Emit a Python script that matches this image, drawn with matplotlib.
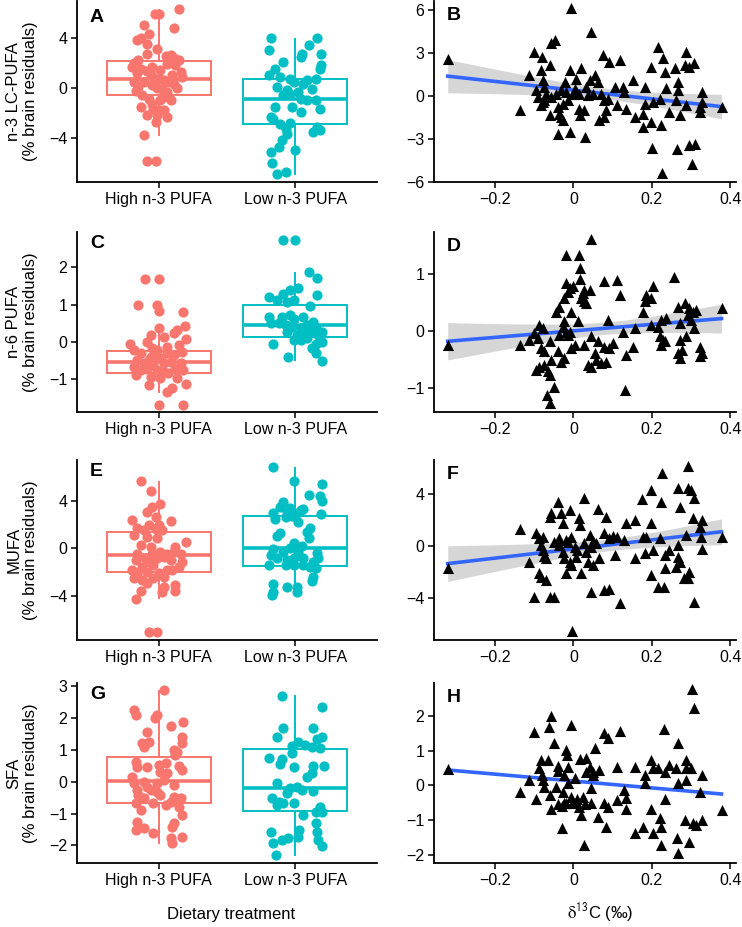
import numpy as np
import matplotlib.pyplot as plt

plt.rcParams['font.family'] = ['Liberation Sans', 'DejaVu Sans']

groups = ['High n-3 PUFA', 'Low n-3 PUFA']
pink = '#F8766D'
teal = '#00BFC4'

# ---- panel A: n-3 LC-PUFA by diet (jitter offset, value) ----
a_hi_dx = [-0.03, 0.00, 0.15, -0.11, 0.11, -0.07, -0.16, -0.13, -0.09, -0.01,
           -0.09, -0.15, -0.18, -0.20, -0.13, -0.09, 0.05, 0.09, 0.11, 0.15,
           0.06, 0.12, 0.17, -0.16, -0.06, -0.02, 0.01, 0.04, 0.07, 0.11,
           -0.18, -0.11, -0.05, -0.01, 0.02, 0.13, -0.17, -0.12, -0.07, 0.04,
           0.09, -0.13, -0.04, 0.00, 0.04, -0.09, 0.06, -0.02, -0.01, -0.11,
           -0.09, -0.02, -0.05, 0.01, 0.10, 0.16, -0.15, 0.06, -0.05, 0.01]
a_hi_y = [5.93, 5.93, 6.28, 5.00, 4.79, 4.26, 3.86, 4.02, 3.54, 3.14,
          2.74, 2.26, 2.00, 1.68, 1.54, 1.36, 2.53, 2.66, 2.42, 2.21,
          1.94, 1.81, 0.88, 1.20, 1.01, 0.69, 0.74, 0.61, 0.48, 0.35,
          0.48, 0.48, 0.21, 0.03, -0.05, 0.03, -0.24, -0.59, -0.85, -0.72,
          -0.98, -1.52, -1.65, -1.78, -1.73, -2.18, -2.31, -2.71, -2.18, -3.78,
          -5.82, -5.82, 1.68, 1.41, 1.01, 1.28, 0.08, -0.32, -1.25, -0.98]
a_lo_dx = [-0.18, -0.19, -0.09, -0.15, -0.19, -0.11, -0.04, -0.01, 0.04, 0.05,
           0.10, 0.16, 0.19, 0.19, 0.18, -0.13, -0.06, -0.09, -0.04, 0.02,
           0.06, 0.09, 0.15, 0.12, 0.04, 0.09, 0.15, 0.18, -0.15, -0.02,
           0.04, -0.18, -0.16, -0.11, -0.04, -0.07, -0.06, -0.10, -0.12, -0.18,
           0.00, -0.17, -0.13, -0.07, 0.13, 0.18, 0.16]
a_lo_y = [3.99, 3.00, 2.07, 1.49, 1.01, 0.88, 0.74, 0.48, 2.47, 2.74,
          3.40, 3.99, 2.74, 1.81, 1.54, 0.08, -0.19, -0.59, -0.45, -0.32,
          0.35, 0.61, 0.74, -0.05, -0.85, -0.98, -0.98, -1.65, -1.52, -1.52,
          -1.91, -2.31, -2.45, -2.85, -2.79, -3.24, -3.64, -4.18, -4.71, -5.11,
          -4.97, -5.98, -6.84, -6.70, -3.51, -3.38, -3.11]
# box stats: whisker low, q1, median, q3, whisker high
a_box = [(-3.78, -0.59, 0.69, 2.18, 6.20), (-6.84, -2.90, -0.85, 0.74, 3.94)]

# ---- panel B: n-3 LC-PUFA vs d13C ----
b_x = [-0.321, -0.136, -0.113, -0.100, -0.081, -0.084, -0.078, -0.091, -0.095, -0.074,
       -0.070, -0.078, -0.083, -0.061, -0.057, -0.047, -0.060, -0.057, -0.044, -0.040,
       -0.036, -0.027, -0.032, -0.040, -0.021, -0.019, -0.014, -0.010, -0.006, -0.008,
       -0.002, 0.007, 0.015, 0.018, 0.020, 0.028, 0.030, 0.037, 0.041, 0.045,
       0.049, 0.054, 0.062, 0.064, 0.075, 0.079, 0.084, 0.088, 0.092, 0.105,
       0.110, 0.118, 0.126, 0.130, 0.135, 0.152, 0.156, 0.177, 0.177, 0.182,
       0.182, 0.197, 0.199, 0.203, 0.201, 0.220, 0.217, 0.224, 0.228, 0.226,
       0.233, 0.237, 0.245, 0.258, 0.263, 0.267, 0.267, 0.271, 0.265, 0.284,
       0.288, 0.288, 0.296, 0.296, 0.303, 0.309, 0.311, 0.322, 0.327, 0.322,
       0.327, 0.378, -0.074, -0.032, 0.004, 0.015, 0.032, 0.071, 0.079, -0.027]
b_y = [2.54, -1.00, 1.45, 3.08, 2.68, 1.79, 1.10, -0.07, 0.40, 0.63,
       0.16, -0.42, -0.65, 2.14, 3.66, 3.89, -1.35, -0.07, 0.16, -0.77,
       -1.24, -1.70, -1.47, -2.63, 0.98, 0.28, -0.30, -2.52, 6.10, 1.79,
       0.16, 1.21, -0.89, -1.35, 1.91, -1.00, -2.87, 0.05, 1.10, 4.48,
       0.16, 1.45, 0.98, -1.70, 2.84, -1.47, -1.00, -0.19, 2.38, 0.63,
       -0.65, 2.49, 0.63, 0.28, -0.89, 1.10, -1.47, -2.17, -1.24, 0.63,
       -0.54, 2.03, -1.82, -0.42, -3.61, -0.19, 3.43, -2.05, 2.61, -5.38,
       1.68, 0.58, -1.12, 1.91, -0.30, 0.98, 0.40, -1.35, -3.68, 2.14,
       3.08, -0.65, 2.03, -3.45, -4.73, 2.26, -3.33, -0.77, 0.28, -1.12,
       -0.42, -0.77, -0.30, 0.40, 0.51, 0.16, 0.63, 0.16, -0.30, -0.54]

# ---- panel C: n-6 PUFA by diet ----
c_hi_dx = [-0.10, 0.00, -0.15, -0.01, 0.00, 0.18, 0.19, 0.11, 0.13, 0.00,
           -0.06, 0.04, 0.20, -0.21, -0.09, 0.15, -0.18, -0.13, -0.06, -0.02,
           0.01, 0.06, 0.11, 0.17, -0.16, -0.11, -0.07, -0.04, 0.04, 0.09,
           0.16, -0.18, -0.13, -0.09, -0.01, 0.04, 0.07, 0.12, 0.18, -0.17,
           -0.06, 0.01, 0.13, -0.07, 0.20, 0.06, 0.10, 0.00, 0.18, -0.01,
           0.06, -0.05]
c_hi_y = [1.68, 1.68, 0.98, 0.99, 0.83, 0.81, 0.43, 0.25, 0.32, 0.37,
          0.19, 0.14, 0.07, -0.04, 0.01, -0.08, -0.21, -0.30, -0.39, -0.35,
          -0.44, -0.30, -0.35, -0.26, -0.48, -0.57, -0.48, -0.62, -0.57, -0.53,
          -0.57, -0.66, -0.75, -0.71, -0.75, -0.79, -0.84, -0.71, -0.75, -0.88,
          -0.93, -0.97, -0.97, -1.15, -1.13, -1.33, -1.24, -1.69, -1.69, -0.21,
          -0.13, -0.17]
c_lo_dx = [-0.09, 0.00, 0.10, 0.16, 0.16, -0.19, -0.09, -0.04, 0.02, -0.01,
           -0.13, -0.06, 0.11, -0.19, -0.10, -0.04, -0.01, 0.06, 0.13, -0.18,
           -0.12, -0.07, -0.02, 0.04, 0.09, 0.15, -0.06, 0.01, 0.07, 0.12,
           0.17, 0.20, 0.04, 0.09, 0.15, 0.20, -0.16, 0.12, 0.15, -0.05,
           0.20, -0.01]
c_lo_y = [2.73, 2.73, 1.87, 1.73, 1.26, 1.21, 1.30, 1.39, 1.46, 1.13,
          1.13, 1.08, 0.96, 0.68, 0.68, 0.72, 0.63, 0.68, 0.54, 0.50,
          0.50, 0.46, 0.41, 0.37, 0.46, 0.37, 0.28, 0.19, 0.23, 0.28,
          0.19, 0.28, 0.05, 0.10, -0.04, 0.01, -0.04, -0.17, -0.30, -0.39,
          -0.50, 0.05]
c_box = [(-1.33, -0.82, -0.54, -0.24, 0.43), (-0.48, 0.13, 0.46, 0.98, 1.86)]

# ---- panel D: n-6 PUFA vs d13C ----
d_x = [-0.321, -0.136, -0.113, -0.100, -0.087, -0.078, -0.091, -0.083, -0.074, -0.061,
       -0.095, -0.087, -0.074, -0.065, -0.061, -0.057, -0.068, -0.060, -0.049, -0.044,
       -0.036, -0.040, -0.032, -0.023, -0.027, -0.023, -0.019, -0.036, -0.014, -0.010,
       -0.023, -0.019, -0.014, -0.010, -0.002, -0.019, -0.006, -0.006, 0.003, 0.011,
       0.013, 0.018, 0.018, 0.020, 0.024, 0.028, 0.032, 0.028, 0.041, 0.045,
       0.028, 0.037, 0.045, 0.045, 0.054, 0.062, 0.057, 0.071, 0.079, 0.079,
       0.084, 0.088, 0.092, 0.100, 0.110, 0.118, 0.126, 0.135, 0.132, 0.152,
       0.156, 0.177, 0.182, 0.186, 0.199, 0.203, 0.199, 0.217, 0.224, 0.220,
       0.224, 0.233, 0.237, 0.228, 0.256, 0.268, 0.272, 0.272, 0.268, 0.272,
       0.276, 0.284, 0.288, 0.292, 0.296, 0.301, 0.305, 0.309, 0.313, 0.322,
       0.327, 0.322, 0.378]
d_y = [-0.24, -0.24, -0.15, -0.03, 0.11, 0.05, -0.12, -0.30, -0.35, -0.18,
       -0.67, -0.62, -0.59, -0.70, -0.76, -0.50, -1.11, -1.26, -0.97, 0.34,
       0.43, -0.35, -0.53, -0.47, 0.08, 0.17, -0.01, -0.06, -0.06, -0.01,
       0.58, 0.84, 0.69, 0.75, 0.78, 1.33, 0.34, -0.30, -0.24, 0.17,
       1.33, 1.10, 0.91, 0.58, 0.66, 0.52, 0.49, 0.72, 0.72, 1.60,
       -0.24, -0.59, -0.62, -0.09, -0.38, -0.18, -0.50, -0.56, 0.87, -0.27,
       -0.53, 0.20, -0.30, -0.21, 0.90, 0.63, -0.01, -0.41, -1.03, -0.27,
       0.05, 0.34, 0.52, 0.63, 0.58, 0.78, 0.11, 0.08, 0.20, -0.09,
       -0.24, -0.18, 0.23, -0.15, 0.94, 0.43, 0.14, -0.15, -0.38, -0.47,
       -0.33, 0.49, -0.09, 0.28, 0.40, 0.20, 0.34, 0.05, 0.37, -0.27,
       -0.38, -0.44, 0.40]

# ---- panel E: MUFA by diet ----
e_hi_dx = [-0.13, -0.06, 0.01, -0.09, -0.05, -0.20, 0.09, -0.02, -0.07, 0.00,
           -0.16, -0.11, -0.02, 0.02, -0.18, -0.09, -0.01, 0.20, -0.13, -0.06,
           0.12, -0.16, -0.05, 0.01, 0.06, 0.11, 0.16, -0.10, -0.01, 0.04,
           -0.17, -0.07, 0.09, 0.17, -0.12, -0.04, 0.15, -0.20, -0.16, -0.09,
           0.00, 0.06, 0.10, -0.18, -0.12, -0.04, 0.04, -0.09, 0.12, 0.12,
           0.04, 0.02, -0.13, -0.17, -0.07, -0.01]
e_hi_y = [5.68, 4.81, 3.72, 3.08, 3.44, 2.38, 2.32, 2.66, 1.96, 1.96,
          1.68, 1.54, 1.59, 1.54, 1.12, 0.98, 0.84, 0.56, 0.28, 0.14,
          0.08, -0.48, -0.48, -0.28, -0.48, -0.28, -0.48, -0.84, -0.84, -0.70,
          -0.98, -1.12, -0.98, -1.12, -1.54, -1.40, -1.54, -1.82, -2.10, -1.96,
          -2.10, -1.82, -1.82, -2.52, -2.66, -2.52, -2.38, -2.94, -3.08, -3.55,
          -3.22, -3.64, -3.55, -4.28, -7.05, -7.05]
e_lo_dx = [-0.16, -0.01, 0.20, 0.10, 0.18, 0.20, -0.09, -0.11, -0.04, 0.04,
           0.06, -0.16, -0.06, 0.01, 0.19, -0.15, -0.07, -0.02, 0.02, 0.11,
           0.09, -0.11, -0.13, 0.10, -0.01, 0.05, -0.16, -0.09, -0.04, 0.02,
           0.16, -0.18, -0.13, -0.06, -0.01, 0.06, 0.17, 0.13, -0.19, -0.07,
           -0.01, 0.06, 0.11, 0.15, 0.13, 0.12, -0.16, -0.16, -0.06, 0.01,
           0.01, -0.17]
e_lo_y = [6.80, 5.65, 5.40, 4.48, 4.42, 3.97, 3.92, 3.50, 3.36, 3.22,
          3.27, 2.94, 3.08, 2.94, 2.88, 2.43, 2.66, 2.71, 2.24, 1.68,
          1.40, 1.26, 1.03, 0.84, 0.42, 0.20, -0.08, -0.28, 0.00, -0.28,
          -0.42, -0.56, -0.84, -0.98, -0.84, -0.84, -0.84, -1.12, -1.40, -1.40,
          -1.40, -1.40, -1.54, -1.68, -2.38, -2.71, -2.99, -3.64, -3.22, -3.22,
          -3.64, -3.92]
e_box = [(-4.20, -1.96, -0.53, 1.34, 5.60), (-3.78, -1.48, 0.03, 2.74, 6.70)]

# ---- panel F: MUFA vs d13C ----
f_x = [-0.321, -0.136, -0.113, -0.100, -0.095, -0.087, -0.083, -0.078, -0.074, -0.087,
       -0.083, -0.070, -0.078, -0.061, -0.061, -0.057, -0.049, -0.040, -0.036, -0.032,
       -0.027, -0.036, -0.027, -0.023, -0.019, -0.014, -0.010, -0.010, -0.006, -0.006,
       -0.004, 0.003, 0.007, 0.015, 0.018, 0.020, 0.028, 0.028, 0.032, 0.037,
       0.041, 0.045, 0.045, 0.049, 0.058, 0.062, 0.066, 0.079, 0.079, 0.084,
       0.092, 0.090, 0.110, 0.107, 0.120, 0.130, 0.135, 0.156, 0.156, 0.175,
       0.177, 0.186, 0.182, 0.199, 0.199, 0.203, 0.199, 0.217, 0.224, 0.226,
       0.220, 0.233, 0.233, 0.231, 0.245, 0.263, 0.267, 0.267, 0.271, 0.267,
       0.271, 0.288, 0.292, 0.292, 0.301, 0.296, 0.292, 0.282, 0.305, 0.309,
       0.307, 0.322, 0.327, 0.325, 0.327, 0.378,
       -0.050, -0.020, 0.010, 0.050, -0.070, 0.100]
f_y = [-1.73, 1.29, -1.21, -3.92, 0.98, 0.59, 0.08, -0.31, -0.77, -2.12,
       -2.37, -2.63, 0.72, 2.27, -3.97, 2.58, -3.92, 3.43, 0.59, 2.53,
       1.75, 0.08, -0.44, -0.95, -2.12, 0.34, 2.79, -1.21, 0.72, -1.47,
       -6.58, -0.05, -0.83, 2.14, 1.63, -2.12, 3.69, 0.21, -0.44, -1.21,
       0.85, -0.05, -3.54, -1.47, 0.21, 2.84, -0.95, -3.41, 0.98, 2.22,
       -3.35, 0.59, 0.72, -0.70, -4.39, 0.46, 1.75, 2.01, -0.95, 3.61,
       0.72, 0.72, -0.57, 4.34, 1.75, -0.31, -2.25, -3.15, 3.43, 5.63,
       0.59, -0.70, -1.73, -3.20, -0.31, -1.60, 0.08, 4.46, 2.99, -0.83,
       -1.21, 0.85, 6.19, 4.46, 4.34, -1.99, -2.50, -2.50, 2.14, 3.69,
       -4.31, 1.50, 2.01, 0.72, -0.26, 0.72,
       0.30, 0.50, -0.30, 0.40, -0.90, 0.80]

# ---- panel G: SFA by diet ----
g_hi_dx = [0.04, -0.18, -0.17, -0.03, -0.01, 0.18, 0.09, -0.09, 0.17, -0.12,
           -0.07, -0.11, 0.17, 0.11, 0.13, 0.12, -0.17, -0.16, -0.09, 0.00,
           0.05, 0.15, 0.17, 0.01, 0.06, -0.20, -0.18, -0.11, -0.09, -0.01,
           0.04, 0.11, -0.16, -0.06, -0.01, 0.01, -0.15, -0.11, 0.11, 0.16,
           -0.17, -0.13, -0.04, 0.05, 0.15, 0.09, 0.17, -0.16, -0.11, -0.17,
           -0.04, 0.11, 0.10, 0.17, 0.09, 0.10]
g_hi_y = [2.87, 2.24, 2.09, 1.98, 2.09, 1.88, 1.74, 1.57, 1.41, 1.22,
          1.25, 1.10, 1.22, 0.99, 0.94, 0.84, 0.63, 0.47, 0.47, 0.52,
          0.57, 0.49, 0.37, 0.31, 0.26, 0.16, -0.05, 0.00, -0.16, -0.05,
          0.05, -0.10, -0.26, -0.26, -0.31, -0.42, -0.42, -0.52, -0.47, -0.52,
          -0.68, -0.89, -0.68, -0.73, -0.78, -0.63, -1.04, -1.28, -1.46, -1.51,
          -1.62, -1.30, -1.41, -1.72, -1.77, -1.93]
g_lo_dx = [-0.10, 0.20, -0.09, 0.13, -0.13, 0.20, -0.02, 0.02, 0.07, 0.12,
           0.16, 0.18, -0.19, -0.10, -0.02, -0.11, -0.01, 0.13, 0.21, 0.09,
           0.12, -0.13, -0.04, 0.01, 0.05, -0.06, 0.13, -0.17, -0.12, -0.09,
           -0.01, -0.13, 0.18, 0.20, 0.15, 0.06, 0.15, 0.03, 0.02, -0.18,
           0.16, -0.10, -0.05, -0.16, 0.17, 0.20, -0.14]
g_lo_y = [2.68, 2.33, 1.67, 1.69, 1.39, 1.39, 1.12, 1.25, 1.15, 1.08,
          1.33, 1.04, 0.73, 0.70, 0.89, 0.55, 0.45, 0.49, 0.49, 0.16,
          0.26, -0.05, -0.21, -0.16, -0.26, -0.37, -0.28, -0.52, -0.63, -0.68,
          -0.68, -0.73, -0.78, -0.94, -0.94, -1.04, -1.30, -1.51, -1.72, -1.57,
          -1.57, -1.83, -1.77, -1.93, -1.83, -2.01, -2.30]
g_box = [(-1.93, -0.66, 0.03, 0.76, 2.85), (-2.30, -0.92, -0.19, 1.02, 2.68)]

# ---- panel H: SFA vs d13C ----
h_x = [-0.321, -0.136, -0.113, -0.100, -0.095, -0.087, -0.083, -0.081, -0.078, -0.074,
       -0.065, -0.063, -0.057, -0.061, -0.057, -0.050, -0.044, -0.040, -0.040, -0.030,
       -0.027, -0.025, -0.023, -0.019, -0.016, -0.014, -0.019, -0.014, -0.006, -0.006,
       -0.002, 0.004, 0.015, 0.018, 0.020, 0.024, 0.028, 0.032, 0.032, 0.041,
       0.045, 0.045, 0.050, 0.054, 0.062, 0.066, 0.079, 0.079, 0.084, 0.088,
       0.088, 0.110, 0.110, 0.120, 0.130, 0.135, 0.135, 0.156, 0.156, 0.177,
       0.182, 0.182, 0.199, 0.199, 0.203, 0.203, 0.217, 0.220, 0.224, 0.224,
       0.231, 0.233, 0.233, 0.245, 0.263, 0.267, 0.267, 0.265, 0.268, 0.288,
       0.288, 0.288, 0.284, 0.296, 0.301, 0.303, 0.307, 0.305, 0.313, 0.322,
       0.327, 0.327, 0.378,
       -0.030, 0.000, 0.010, -0.040, 0.030, 0.050]
h_y = [0.46, -0.18, 0.15, 1.55, -0.40, 0.49, 0.73, 0.30, 0.15, -0.04,
       0.73, 1.69, 2.00, -0.28, -0.69, 1.21, -0.04, 0.56, -0.54, -1.24,
       -0.18, -0.52, 0.30, 1.02, 0.88, 0.54, -0.52, 0.06, 1.74, -0.33,
       -0.47, 0.20, -0.62, 0.75, -0.86, -0.33, -1.72, 0.78, 0.39, 0.54,
       -0.09, -0.52, 0.39, 1.07, -0.90, 0.44, 1.52, -0.52, -1.19, 1.36,
       -0.62, -0.42, 0.54, 1.57, -0.13, -0.38, -0.69, -1.38, 0.52, -1.19,
       0.30, 0.06, 0.73, -0.69, -1.38, 0.49, 0.49, -0.95, -1.19, -1.72,
       1.62, -0.40, 0.39, 0.59, 0.49, 1.21, 0.06, -1.53, -1.96, 0.73,
       0.15, 0.49, -1.00, -1.63, 0.49, 2.77, 2.24, -1.10, -1.14, -0.18,
       0.30, -1.00, -0.71,
       -0.60, -0.50, -0.40, 0.40, -0.55, 0.30]

ylabels = ['n-3 LC-PUFA', 'n-6 PUFA', 'MUFA', 'SFA']
left_letters = ['A', 'C', 'E', 'G']
right_letters = ['B', 'D', 'F', 'H']
left_yticks = [[-4, 0, 4], [-1, 0, 1, 2], [-4, 0, 4], [-2, -1, 0, 1, 2, 3]]
right_yticks = [[-6, -3, 0, 3, 6], [-1, 0, 1], [-4, 0, 4], [-2, -1, 0, 1, 2]]
left_ylim = [(-7.50, 6.93), (-1.875, 2.95), (-7.69, 7.41), (-2.55, 3.09)]
right_ylim = [(-6.01, 6.62), (-1.41, 1.73), (-7.28, 6.66), (-2.24, 2.95)]
band_on = [True, True, True, False]

box_data = [
    (a_hi_dx, a_hi_y, a_lo_dx, a_lo_y, a_box),
    (c_hi_dx, c_hi_y, c_lo_dx, c_lo_y, c_box),
    (e_hi_dx, e_hi_y, e_lo_dx, e_lo_y, e_box),
    (g_hi_dx, g_hi_y, g_lo_dx, g_lo_y, g_box),
]
scatter_data = [(b_x, b_y), (d_x, d_y), (f_x, f_y), (h_x, h_y)]

W, H = 742, 927
fig = plt.figure(figsize=(W / 100, H / 100), dpi=100)
rows = [(1, 182), (232, 412), (460, 640), (683, 863)]


def px_axes(l, t, r, b):
    return fig.add_axes([l / W, 1 - b / H, (r - l) / W, (b - t) / H])


def style(ax):
    for s in ['top', 'right']:
        ax.spines[s].set_visible(False)
    for s in ['left', 'bottom']:
        ax.spines[s].set_linewidth(1.3)
    ax.tick_params(width=1.1, length=4, labelsize=11.5, colors='black', pad=3)


def minus(v):
    s = ('%g' % v)
    return s.replace('-', '\u2212')


def lm_fit(x, y):
    x = np.asarray(x)
    y = np.asarray(y)
    slope, icpt = np.polyfit(x, y, 1)
    xs = np.linspace(x.min(), x.max(), 80)
    yhat = icpt + slope * xs
    n = len(x)
    resid = y - (icpt + slope * x)
    s = np.sqrt((resid ** 2).sum() / (n - 2))
    se = s * np.sqrt(1 / n + (xs - x.mean()) ** 2 / ((x - x.mean()) ** 2).sum())
    return xs, yhat, 1.984 * se


for i, (top, bot) in enumerate(rows):
    # left: boxplot + jitter
    ax = px_axes(77, top, 377, bot)
    hi_dx, hi_y, lo_dx, lo_y, bx = box_data[i]
    stats = [dict(whislo=b[0], q1=b[1], med=b[2], q3=b[3], whishi=b[4], fliers=[])
             for b in bx]
    for k, col in enumerate([pink, teal]):
        ax.bxp([stats[k]], positions=[k + 1], widths=0.76, showfliers=False,
               patch_artist=True, manage_ticks=False,
               boxprops=dict(facecolor='white', edgecolor=col, linewidth=1.4),
               whiskerprops=dict(color=col, linewidth=1.4),
               capprops=dict(linewidth=0),
               medianprops=dict(color=col, linewidth=2.6, solid_capstyle='butt'))
    ax.scatter(1 + np.asarray(hi_dx), hi_y, s=54, color=pink, zorder=3, linewidths=0)
    ax.scatter(2 + np.asarray(lo_dx), lo_y, s=54, color=teal, zorder=3, linewidths=0)
    ax.set_xlim(0.4, 2.6)
    ax.set_ylim(*left_ylim[i])
    ax.set_xticks([1, 2])
    ax.set_xticklabels(groups)
    ax.set_yticks(left_yticks[i])
    ax.set_yticklabels([minus(v) for v in left_yticks[i]])
    style(ax)
    ax.set_ylabel(ylabels[i] + '\n(% brain residuals)', fontsize=12, linespacing=1.15)
    ax.yaxis.set_label_coords(-0.13, 0.5)
    ax.text(0.043, 0.985 if i else 0.955, left_letters[i], transform=ax.transAxes,
            fontsize=14, fontweight='bold', va='top', ha='left')

    # right: scatter + linear fit
    ax2 = px_axes(434, top, 736, bot)
    sx, sy = scatter_data[i]
    xs, yhat, ci = lm_fit(sx, sy)
    if band_on[i]:
        ax2.fill_between(xs, yhat - ci, yhat + ci, color='#999999', alpha=0.4,
                         linewidth=0, zorder=1)
    ax2.plot(xs, yhat, color='#3366FF', lw=2.6, zorder=2)
    ax2.scatter(sx, sy, marker='^', s=64, color='black', zorder=3, linewidths=0)
    ax2.set_xlim(-0.356, 0.415)
    ax2.set_ylim(*right_ylim[i])
    ax2.set_xticks([-0.2, 0, 0.2, 0.4])
    ax2.set_xticklabels(['\u22120.2', '0', '0.2', '0.4'])
    ax2.set_yticks(right_yticks[i])
    ax2.set_yticklabels([minus(v) for v in right_yticks[i]])
    style(ax2)
    ax2.text(0.043, 0.965, right_letters[i], transform=ax2.transAxes,
             fontsize=14, fontweight='bold', va='top', ha='left')

fig.text(231 / W, 1 - 915 / H, 'Dietary treatment', fontsize=12, ha='center', va='center')
fig.text(600 / W, 1 - 913 / H, r'$\mathrm{\delta}^{\mathsf{13}}$C (‰)', fontsize=12,
         ha='center', va='center', math_fontfamily='stix')

fig.savefig('out.png', dpi=100)
